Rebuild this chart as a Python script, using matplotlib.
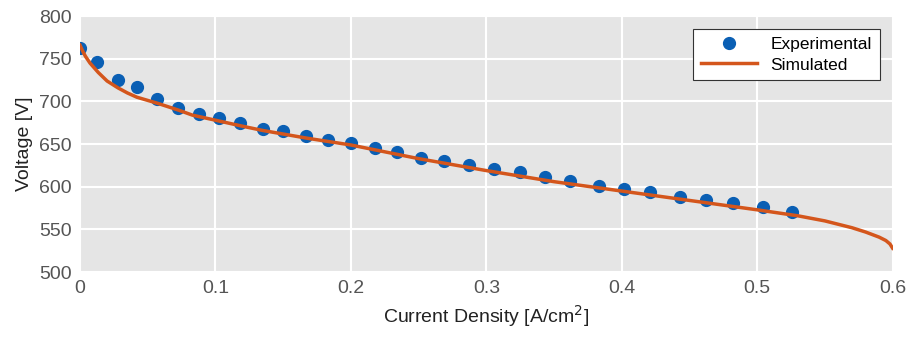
import numpy as np
import matplotlib.pyplot as plt

# experimental points
exp_j = [0.0, 0.0125, 0.028, 0.042, 0.057, 0.072, 0.088, 0.103, 0.118, 0.135,
         0.150, 0.167, 0.183, 0.200, 0.218, 0.234, 0.252, 0.269, 0.287, 0.306,
         0.325, 0.343, 0.362, 0.383, 0.402, 0.421, 0.443, 0.462, 0.482, 0.504, 0.526]
exp_v = [763, 746, 725, 717, 703, 692, 685, 681, 675, 668,
         665, 660, 655, 651, 646, 641, 634, 630, 626, 621,
         617, 611, 607, 601, 597, 594, 588, 585, 581, 576, 570]

# simulated curve
sim_j = [0.0, 0.002, 0.004, 0.0074, 0.0135, 0.02, 0.028, 0.035, 0.042, 0.057,
         0.0725, 0.083, 0.103, 0.12, 0.135, 0.1675, 0.2, 0.25, 0.3, 0.35,
         0.4, 0.45, 0.5, 0.53, 0.55, 0.57, 0.58, 0.59, 0.595, 0.598, 0.6]
sim_v = [766, 759, 753, 745, 734, 724, 716, 710, 705, 698,
         690, 684, 677, 671, 666, 657, 649, 633, 619, 606,
         595, 584, 573, 566, 560, 552, 547, 541, 537, 533, 528]

plt.rcParams['font.family'] = ['Liberation Sans', 'DejaVu Sans']

fig = plt.figure(figsize=(9.09, 3.44), dpi=100)
ax = fig.add_axes([0.088, 0.209, 0.894, 0.744])
ax.set_facecolor('#e5e5e5')

ax.plot(exp_j, exp_v, 'o', color='#0a5fb4', markersize=8.5, label='Experimental', zorder=3)
ax.plot(sim_j, sim_v, '-', color='#d4561c', linewidth=2.5, label='Simulated', zorder=4)

ax.set_xlim(0, 0.6)
ax.set_ylim(500, 800)
ax.set_xticks([0, 0.1, 0.2, 0.3, 0.4, 0.5, 0.6])
ax.set_xticklabels(['0', '0.1', '0.2', '0.3', '0.4', '0.5', '0.6'])
ax.set_yticks(np.arange(500, 801, 50))
ax.grid(True, color='white', linewidth=1.5)
ax.set_axisbelow(True)
for s in ax.spines.values():
    s.set_visible(False)
ax.tick_params(length=0, labelsize=14, colors='#555555', pad=6)

ax.set_xlabel('Current Density [A/cm$^2$]', fontsize=14, color='#222222')
ax.set_ylabel('Voltage [V]', fontsize=14, color='#222222')

leg = ax.legend(loc='upper right', bbox_to_anchor=(0.984, 0.949), borderaxespad=0,
                fontsize=12.5, frameon=True, fancybox=False, framealpha=1,
                edgecolor='#333333', handlelength=3.2, borderpad=0.45,
                labelspacing=0.3)
leg.get_frame().set_linewidth(0.8)

fig.savefig('out.png', dpi=100)
